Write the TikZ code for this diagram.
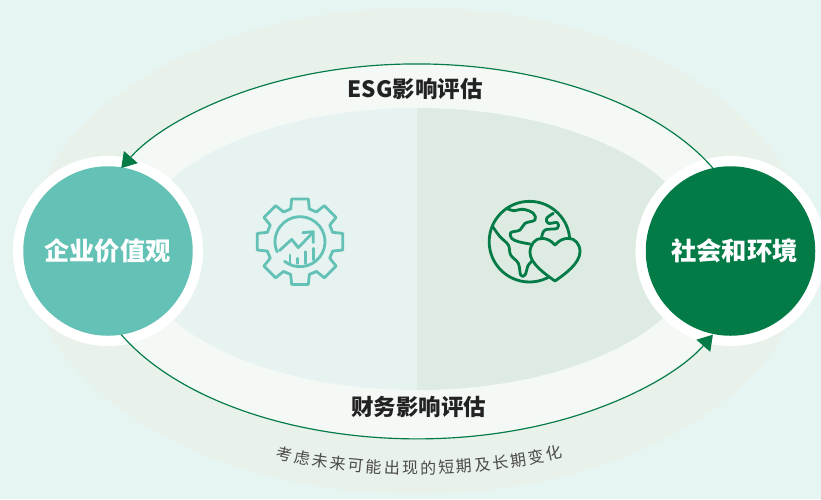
\documentclass[tikz,border=0pt]{standalone}
\usepackage{fontspec}
\setmainfont{Noto Sans CJK SC}
\newfontfamily\tagfont{Noto Sans CJK SC}
\usetikzlibrary{arrows.meta,decorations.text}
\definecolor{pageBg}{HTML}{E6F4F2}
\definecolor{outerBand}{HTML}{E9F1EB}
\definecolor{midBand}{HTML}{F4F9F6}
\definecolor{innerLeft}{HTML}{E7F3F1}
\definecolor{innerRight}{HTML}{DEEBE2}
\definecolor{tealDisc}{HTML}{64C1B5}
\definecolor{greenDisc}{HTML}{037B47}
\definecolor{labelInk}{HTML}{222222}
\definecolor{tagInk}{HTML}{4A4A4A}
\newcommand{\tagtext}{考虑未来可能出现的短期及长期变化}
\tikzset{
  halo/.style={circle,fill=white,inner sep=0pt,outer sep=0pt,minimum size=190*0.03cm},
  disc/.style={circle,inner sep=0pt,outer sep=0pt,minimum size=169.5*0.03cm},
  discText/.style={text=white,font=\bfseries\fontsize{21.6}{24}\selectfont,inner sep=0pt},
  arcLabel/.style={text=labelInk,font=\bfseries\fontsize{19.2}{22}\selectfont,inner sep=0pt},
  flow/.style={draw=greenDisc,line width=1pt,-{Triangle[length=12.5pt,width=15.5pt]}},
  iconLine/.style={line width=2.4pt,line join=round,line cap=round}
}
\begin{document}
\begin{tikzpicture}[x=0.03cm,y=0.03cm]
\useasboundingbox (0,0) rectangle (821,-499);
\fill [pageBg] (0,0) rectangle (821,-499);
\fill [outerBand] (417,-251) ellipse [x radius=390,y radius=243];
\fill [midBand] (417,-251) ellipse [x radius=330,y radius=187];
\fill [innerLeft] (417,-108) arc (90:270:282 and 141) -- cycle;
\fill [innerRight] (417,-108) arc (90:-90:282 and 141) -- cycle;
\node [halo] (entHalo) at (108,-251) {};
\node [halo] (socHalo) at (730.5,-251) {};
\node [disc,fill=tealDisc] (entDisc) at (108,-251) {};
\node [disc,fill=greenDisc] (socDisc) at (730.5,-251) {};
\node [discText] (entText) at (107.5,-251) {企业价值观};
\node [discText] (socText) at (734.5,-251) {社会和环境};
\draw [flow] (socDisc.102) arc (26.3:153.7:330 and 187);
\draw [flow] (entDisc.-81) arc (206.3:333.7:330 and 187);
\node [arcLabel] (esgLabel) at (415,-89) {ESG影响评估};
\node [arcLabel] (finLabel) at (418.5,-407) {财务影响评估};
\coordinate (tagStart) at (275.5,-458.3);
\path [decorate,decoration={text along path,text align=fit to path,
  text={|\tagfont\fontsize{13.6}{16}\selectfont\color{tagInk}|\tagtext}}]
  (tagStart) arc (248.4:292.2:385 and 223);
\begin{scope}[shift={(300,-241.7)},draw=tealDisc,iconLine]
\draw (-16:34) \foreach \a in {0,45,...,315} {
  -- (\a-16:34) -- (\a-11:43.5) -- (\a+11:43.5) -- (\a+16:34)
  } -- cycle;
\draw (231.7:25) arc (231.7:563.8:25);
\draw (-20.7,-9) -- (-8.3,2.3) -- (-1.7,-6) -- (12.7,9);
\draw (2.7,9) -- (13.3,10) -- (13.3,-0.7);
\draw (-10,-13.3) -- (-10,-21.7);
\draw (-2.3,-16.7) -- (-2.3,-21.7);
\draw (5.3,-10) -- (5.3,-21.7);
\draw (13.3,-6.7) -- (13.3,-18.3);
\end{scope}
\begin{scope}[shift={(470,-180)},scale=0.3333,draw=greenDisc,iconLine]
\draw (178.5,-185) circle (121);
\draw plot [smooth,tension=0.6] coordinates {(110,-85) (130,-92) (160,-88) (190,-100) (195,-120) (165,-130) (150,-150) (122,-158) (125,-175) (145,-185) (180,-192)};
\draw plot [smooth,tension=0.6] coordinates {(68,-140) (90,-170) (115,-195) (122,-225) (145,-250) (152,-285) (165,-285) (175,-255) (190,-240)};
\draw plot [smooth,tension=0.6] coordinates {(250,-100) (230,-115) (235,-130) (262,-128) (262,-145) (225,-150) (215,-172)};
\filldraw [fill=innerRight] (255,-195) .. controls (244,-182) and (230,-175) .. (215,-175)
  .. controls (194,-175) and (180,-195) .. (180,-218)
  .. controls (180,-250) and (226,-283) .. (255,-303)
  .. controls (284,-283) and (330,-250) .. (330,-215)
  .. controls (330,-192) and (315,-175) .. (295,-175)
  .. controls (280,-175) and (266,-182) .. cycle;
\end{scope}
\end{tikzpicture}
\end{document}
